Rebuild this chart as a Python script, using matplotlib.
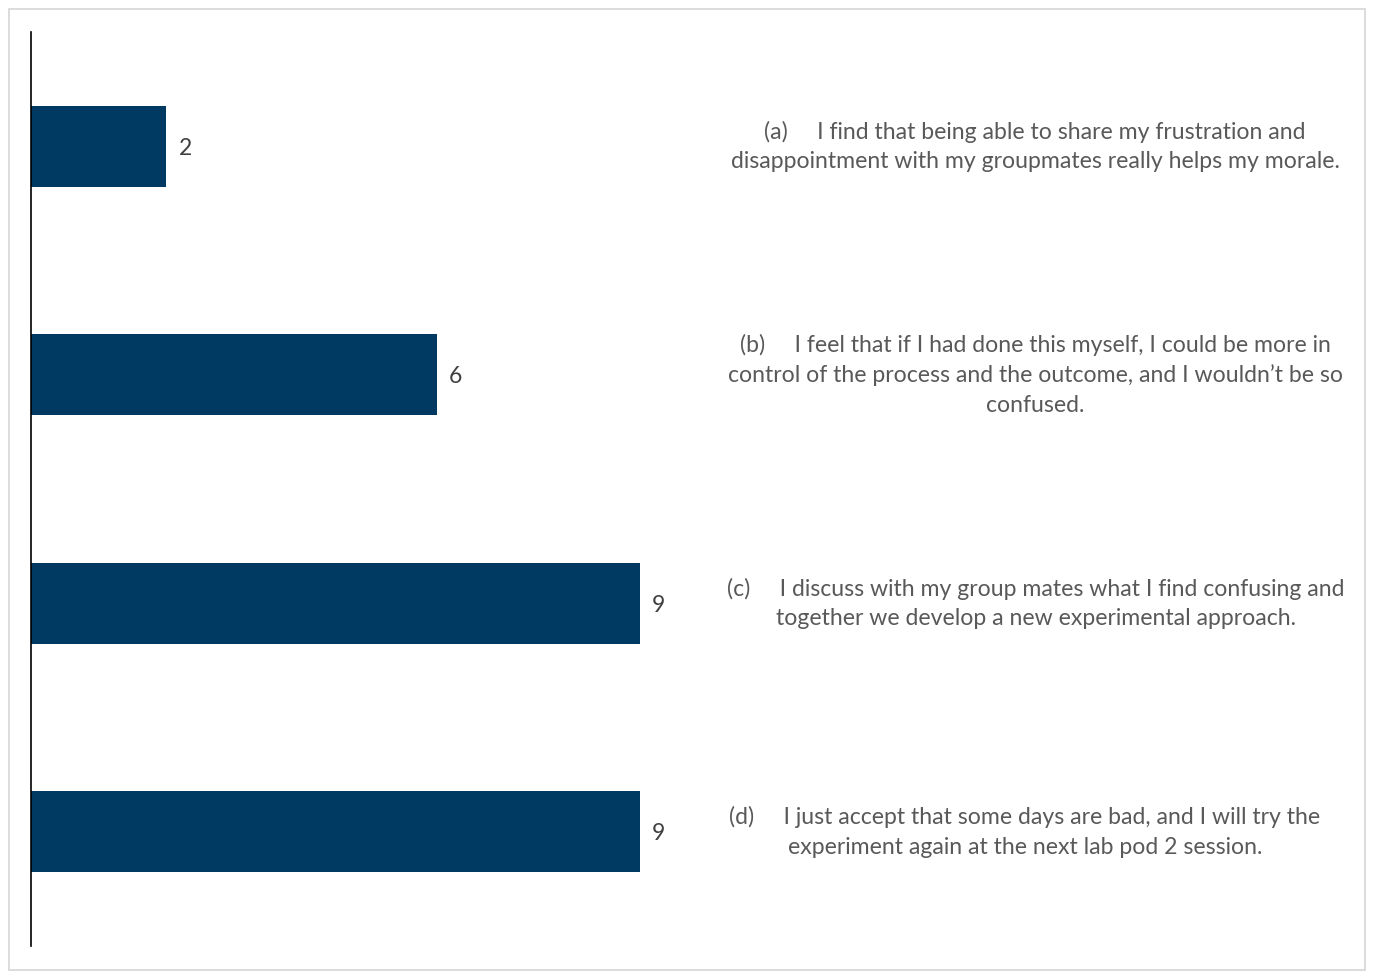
import matplotlib
matplotlib.use("Agg")
import matplotlib.pyplot as plt
from matplotlib.patches import Rectangle

categories = [
    "(a)     I find that being able to share my frustration and\ndisappointment with my groupmates really helps my morale.",
    "(b)     I feel that if I had done this myself, I could be more in\ncontrol of the process and the outcome, and I wouldn\u2019t be so\nconfused.",
    "(c)     I discuss with my group mates what I find confusing and\ntogether we develop a new experimental approach.",
    "(d)     I just accept that some days are bad, and I will try the\nexperiment again at the next lab pod 2 session.",
]
values = [2, 6, 9, 9]

plt.rcParams['font.family'] = ['Lato', 'DejaVu Sans']

W, H = 1373, 980
fig = plt.figure(figsize=(W / 100, H / 100), dpi=100)
fig.patch.set_facecolor("white")

# outer frame
fig.patches.append(Rectangle((9 / W, 1 - 970 / H), (1365 - 9) / W, (970 - 9) / H,
                             transform=fig.transFigure, fill=False,
                             edgecolor="#d9d9d9", linewidth=1.3))

ax_left = 31 / W
ax_bottom = 1 - 946 / H
ax_h = (946 - 32) / H
ax_w = (67.67 * 10) / W
ax = fig.add_axes([ax_left, ax_bottom, ax_w, ax_h])

y = list(range(len(values)))
ax.barh(y, values, height=0.354, color="#003a63", zorder=2)
ax.set_xlim(0, 10)
ax.set_ylim(len(values) - 0.5, -0.5)

for yi, v in zip(y, values):
    ax.text(v + 0.18, yi + 0.008, str(v), va="center", ha="left", fontsize=16.5, color="#404040")

for s in ["top", "right", "bottom"]:
    ax.spines[s].set_visible(False)
ax.spines["left"].set_color("black")
ax.spines["left"].set_linewidth(1.2)
ax.set_xticks([])
ax.set_yticks([])
ax.patch.set_alpha(0)

# category descriptions on the right
text_x = [1035, 1035, 1036, 1025]
for yi, lab, tx in zip(y, categories, text_x):
    yd = ax.transData.transform((0, yi))[1]
    yf = fig.transFigure.inverted().transform((0, yd))[1]
    fig.text(tx / W, yf, lab, ha="center", va="center", fontsize=16.6,
             color="#595959", linespacing=1.5, multialignment="center")

fig.savefig("out.png", dpi=100, facecolor="white")
